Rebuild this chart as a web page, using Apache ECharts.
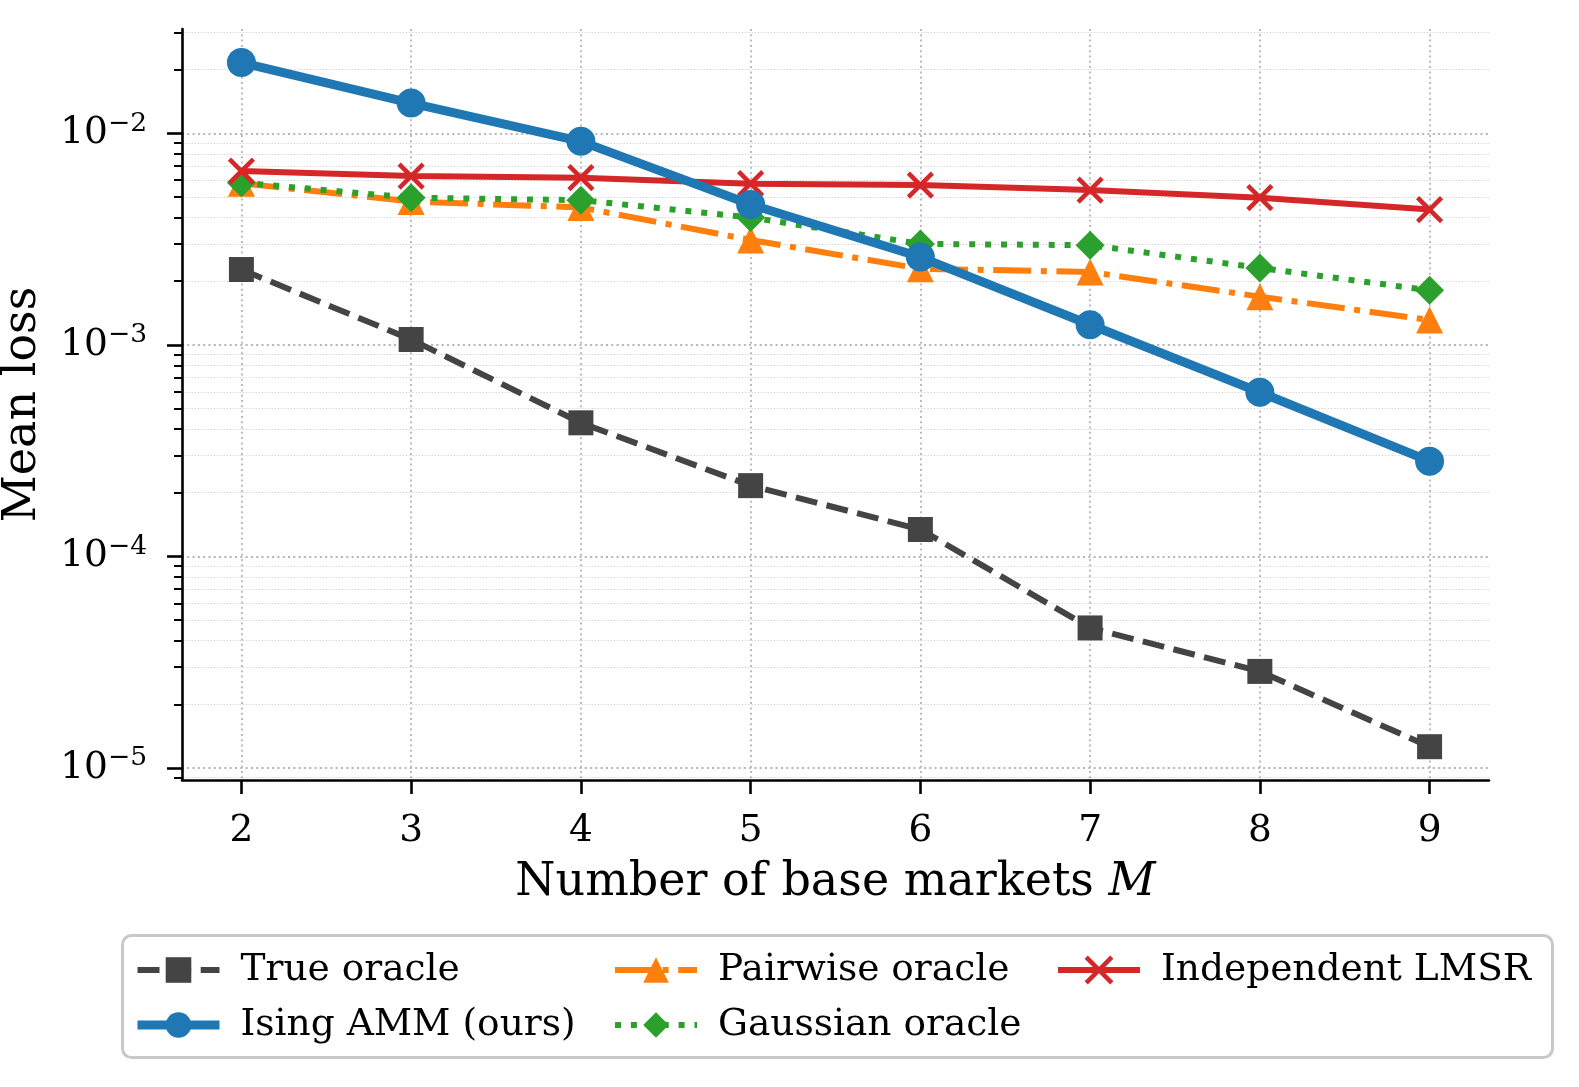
<!DOCTYPE html>
<html><head><meta charset="utf-8">
<script src="https://cdn.jsdelivr.net/npm/echarts@6/dist/echarts.min.js"></script>
<style>html,body{margin:0;padding:0;background:#fff}#c{width:1579px;height:1087px}</style>
</head><body><div id="c"></div>
<script>
// ---- data ----
const M = [2, 3, 4, 5, 6, 7, 8, 9];
const trueOracle = [2.27e-3, 1.06e-3, 4.28e-4, 2.16e-4, 1.34e-4, 4.59e-5, 2.86e-5, 1.26e-5];
const isingAMM   = [2.16e-2, 1.39e-2, 9.16e-3, 4.61e-3, 2.60e-3, 1.245e-3, 5.97e-4, 2.82e-4];
const pairwise   = [5.80e-3, 4.76e-3, 4.46e-3, 3.13e-3, 2.29e-3, 2.21e-3, 1.69e-3, 1.31e-3];
const gaussian   = [5.84e-3, 4.96e-3, 4.83e-3, 4.00e-3, 3.00e-3, 2.96e-3, 2.31e-3, 1.81e-3];
const lmsr       = [6.63e-3, 6.28e-3, 6.17e-3, 5.78e-3, 5.69e-3, 5.39e-3, 4.96e-3, 4.36e-3];
const names = ['True oracle', 'Ising AMM (ours)', 'Pairwise oracle', 'Gaussian oracle', 'Independent LMSR'];
const xTicks = [2, 3, 4, 5, 6, 7, 8, 9];
const yMajorExp = [-5, -4, -3, -2];
const xTitle = 'Number of base markets ';
const xTitleVar = 'M';
const yTitle = 'Mean loss';

// ---- layout ----
const FONT = 'DejaVu Serif';
const TICK_FS = 37.5, TITLE_FS = 46;
const yMin = Math.pow(10, -5.057), yMax = Math.pow(10, -1.507);
const yMajor = yMajorExp.map(e => Math.pow(10, e));
const yMinor = [];
for (let e = -6; e <= -1; e++) for (let k = 2; k <= 9; k++) {
  const v = k * Math.pow(10, e);
  if (v > yMin && v < yMax) yMinor.push(v);
}
const pair = arr => M.map((m, i) => [m, arr[i]]);
const xPath = 'path://M0,0 L10,10 M10,0 L0,10';

const chart = echarts.init(document.getElementById('c'), null, {renderer: 'canvas'});
const majorGrid = {show: true, lineStyle: {color: '#b5b5b5', width: 1.8, type: [2, 3.3]}};
const minorGrid = {show: true, lineStyle: {color: '#cdcdcd', width: 1.2, type: [1.2, 2]}};

function mk(name, data, color, symbol, size, width, type, z, extra) {
  return Object.assign({
    name, type: 'line', data: pair(data), z, symbol, symbolSize: size,
    itemStyle: {color}, lineStyle: {color, width, type},
    emphasis: {disabled: true}, animation: false
  }, extra || {});
}
const legendText = {fontFamily: FONT, fontSize: TICK_FS, color: '#000', padding: [0, 0, 0, 16]};
const legendBase = {orient: 'vertical', top: 951, padding: 0, itemWidth: 82, itemHeight: 32, itemGap: 17,
  selectedMode: false, textStyle: legendText};

chart.setOption({
  animation: false,
  grid: {left: 182, right: 90, top: 29, bottom: 307, containLabel: false, outerBoundsMode: 'none'},
  xAxis: {
    type: 'value', min: 1.65, max: 9.35,
    name: xTitle + '{i|' + xTitleVar + '}', nameLocation: 'middle', nameGap: 80,
    nameTextStyle: {fontFamily: FONT, fontSize: TITLE_FS, color: '#000', rich: {i: {fontFamily: FONT, fontStyle: 'italic', fontSize: TITLE_FS, color: '#000'}}},
    axisLine: {show: true, lineStyle: {color: '#000', width: 2.6}},
    axisTick: {show: true, customValues: xTicks, length: 14, lineStyle: {color: '#000', width: 2.6}},
    axisLabel: {customValues: xTicks, fontFamily: FONT, fontSize: TICK_FS, color: '#000', margin: 32},
    splitLine: majorGrid
  },
  yAxis: [{
    type: 'log', min: yMin, max: yMax, position: 'left',
    name: yTitle, nameLocation: 'middle', nameGap: 136,
    nameTextStyle: {fontFamily: FONT, fontSize: TITLE_FS, color: '#000'},
    axisLine: {show: true, lineStyle: {color: '#000', width: 2.6}},
    axisTick: {show: true, customValues: yMajor, length: 15, lineStyle: {color: '#000', width: 2.6}},
    axisLabel: {
      customValues: yMajor, margin: 35,
      formatter: v => '{b|10}{s|−' + Math.abs(Math.round(Math.log10(v))) + '}',
      rich: {
        b: {fontFamily: FONT, fontSize: TICK_FS, color: '#000', lineHeight: 46},
        s: {fontFamily: FONT, fontSize: 26.5, color: '#000', verticalAlign: 'top', lineHeight: 27}
      }
    },
    splitLine: majorGrid
  }, {
    type: 'log', min: yMin, max: yMax, position: 'left',
    axisLine: {show: false},
    axisTick: {show: true, customValues: yMinor, length: 8, lineStyle: {color: '#000', width: 2}},
    axisLabel: {show: false, customValues: yMinor},
    splitLine: minorGrid
  }],
  legend: [
    Object.assign({}, legendBase, {left: 133, data: [
      {name: names[0], lineStyle: {width: 6}},
      {name: names[1], lineStyle: {width: 9}}]}),
    Object.assign({}, legendBase, {left: 612, data: [
      {name: names[2], lineStyle: {width: 6}},
      {name: names[3], lineStyle: {width: 6}}]}),
    Object.assign({}, legendBase, {left: 1055, data: [
      {name: names[4], lineStyle: {width: 6}, itemStyle: {borderWidth: 4.5, borderColor: '#d62728'}}]})
  ],
  graphic: [{
    type: 'rect', left: 121, top: 934, z: -1, silent: true,
    shape: {width: 1430, height: 122, r: 9},
    style: {fill: '#fff', stroke: '#c8c8c8', lineWidth: 3}
  }],
  series: [
    mk(names[0], trueOracle, '#444444', 'rect', 25, 6, [22, 9.6], 2),
    mk(names[1], isingAMM, '#1f77b4', 'circle', 29, 9, 'solid', 6),
    mk(names[2], pairwise, '#ff7f0e', 'triangle', 27, 6, [38, 9.6, 6, 9.6], 3),
    mk(names[3], gaussian, '#2ca02c', 'diamond', 29, 6, [6, 9.9], 4),
    mk(names[4], lmsr, '#d62728', xPath, 24, 6, 'solid', 5,
       {itemStyle: {color: '#d62728', borderColor: '#d62728', borderWidth: 4.5}})
  ]
});
</script></body></html>
